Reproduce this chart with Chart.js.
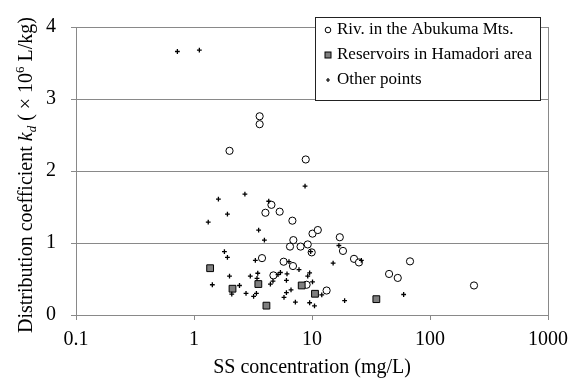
<!DOCTYPE html>
<html>
<head>
<meta charset="utf-8">
<script src="https://cdn.jsdelivr.net/npm/chart.js"></script>
<style>
  body { margin: 0; background: #fff; }
  canvas { display: block; }
</style>
</head>
<body>
<canvas id="chart" width="578" height="378"></canvas>
<script>
// values (SS in mg/L, kd in 10^6 L/kg)
const rivLabel = 'Riv. in the Abukuma Mts.';
const rivSS = [2.0, 3.6, 3.6, 8.85, 4.53, 4.03, 5.32, 6.82, 10.1, 11.2, 17.2, 6.95, 6.51, 8.0, 9.2,
    9.94, 18.3, 3.77, 5.75, 6.9, 22.7, 25.0, 4.71, 9.0, 13.3, 67.7, 45, 53.3, 236];
const rivKd = [2.28, 2.76, 2.65, 2.16, 1.53, 1.42, 1.435, 1.31, 1.13, 1.18, 1.08, 1.04, 0.95, 0.95, 0.98,
    0.87, 0.89, 0.79, 0.74, 0.68, 0.78, 0.73, 0.55, 0.42, 0.34, 0.745, 0.57, 0.515, 0.41];

const resLabel = 'Reservoirs in Hamadori area';
const resSS = [1.37, 2.12, 3.51, 4.11, 8.18, 10.6, 35.1];
const resKd = [0.65, 0.365, 0.43, 0.13, 0.41, 0.295, 0.22];

const otherLabel = 'Other points';
const otherSS = [0.723, 1.11, 8.73, 1.61, 2.7, 4.3, 1.92, 1.32, 3.53, 3.95, 1.81, 1.92, 3.31, 9.75, 6.38,
    7.76, 16.9, 15.1, 26.2, 2.0, 1.43, 2.43, 2.09, 3.0, 3.47, 3.42, 2.76, 3.38, 3.2, 4.44, 4.67, 5.15,
    5.4, 6.14, 6.07, 6.64, 6.07, 5.79, 7.23, 9.55, 9.2, 10.1, 9.55, 10.5, 12.1, 18.9, 59.8];
const otherKd = [3.66, 3.68, 1.79, 1.61, 1.68, 1.58, 1.40, 1.29, 1.18, 1.04, 0.88, 0.80, 0.76, 0.88, 0.74,
    0.63, 0.965, 0.72, 0.76, 0.54, 0.42, 0.41, 0.29, 0.54, 0.58, 0.51, 0.30, 0.30, 0.26, 0.43, 0.47, 0.56,
    0.59, 0.57, 0.48, 0.35, 0.31, 0.245, 0.18, 0.585, 0.54, 0.46, 0.17, 0.126, 0.28, 0.20, 0.285];

const xTicks = [0.1, 1, 10, 100, 1000];
const yTicks = [0, 1, 2, 3, 4];

const serif = 'Liberation Serif';
const gray = '#898989';

function pairs(xs, ys) {
    return xs.map((x, i) => ({ x: x, y: ys[i] }));
}

// y title has italics, a subscript and a superscript, so it is drawn here
const yTitle = {
    id: 'yTitle',
    afterDraw(chart) {
        const ctx = chart.ctx;
        const parts = [
            { t: 'Distribution coefficient ', f: '20px', dy: 0 },
            { t: 'k', f: 'italic 20px', dy: 0 },
            { t: 'd', f: 'italic 13px', dy: 4 },
            { t: ' ( \u00d7 10', f: '20px', dy: 0 },
            { t: '6', f: '13px', dy: -8 },
            { t: ' L/kg)', f: '20px', dy: 0 },
        ];
        ctx.save();
        ctx.translate(31.5, 175);
        ctx.rotate(-Math.PI / 2);
        ctx.fillStyle = '#000';
        ctx.textBaseline = 'alphabetic';
        let w = 0;
        parts.forEach(p => {
            ctx.font = p.f + ' "' + serif + '"';
            p.w = ctx.measureText(p.t).width;
            w += p.w;
        });
        let x = -w / 2;
        parts.forEach(p => {
            ctx.font = p.f + ' "' + serif + '"';
            ctx.fillText(p.t, x, p.dy);
            x += p.w;
        });
        ctx.restore();
    }
};

// boxed legend inside the plot, top right
const boxLegend = {
    id: 'boxLegend',
    afterDraw(chart) {
        const ctx = chart.ctx;
        const rows = [30, 55, 80];
        ctx.save();
        ctx.fillStyle = '#fff';
        ctx.fillRect(315.5, 17.5, 225, 83);
        ctx.strokeStyle = '#222';
        ctx.lineWidth = 1;
        ctx.strokeRect(315.5, 17.5, 225, 83);

        const mx = 328;
        // circle
        ctx.beginPath();
        ctx.arc(mx, rows[0], 2.8, 0, Math.PI * 2);
        ctx.fillStyle = '#fff';
        ctx.fill();
        ctx.strokeStyle = '#000';
        ctx.stroke();
        // square
        ctx.fillStyle = '#7f7f7f';
        ctx.fillRect(mx - 3, rows[1] - 3, 6, 6);
        ctx.strokeRect(mx - 3, rows[1] - 3, 6, 6);
        // cross
        ctx.beginPath();
        ctx.moveTo(mx - 2, rows[2]);
        ctx.lineTo(mx + 2, rows[2]);
        ctx.moveTo(mx, rows[2] - 2);
        ctx.lineTo(mx, rows[2] + 2);
        ctx.lineWidth = 1.2;
        ctx.stroke();

        ctx.fillStyle = '#000';
        ctx.font = '17px "' + serif + '"';
        ctx.textBaseline = 'middle';
        chart.data.datasets.forEach((ds, i) => {
            ctx.fillText(ds.label, 337, rows[i]);
        });
        ctx.restore();
    }
};

new Chart(document.getElementById('chart'), {
    type: 'scatter',
    data: {
        datasets: [
            {
                label: rivLabel,
                data: pairs(rivSS, rivKd),
                pointStyle: 'circle',
                pointRadius: 3.6,
                pointBorderWidth: 1,
                pointBorderColor: '#000',
                pointBackgroundColor: '#fff',
                order: 3,
            },
            {
                label: resLabel,
                data: pairs(resSS, resKd),
                pointStyle: 'rect',
                pointRadius: 4.8,
                pointBorderWidth: 1,
                pointBorderColor: '#000',
                pointBackgroundColor: '#7f7f7f',
                order: 2,
            },
            {
                label: otherLabel,
                data: pairs(otherSS, otherKd),
                pointStyle: 'cross',
                pointRadius: 2.4,
                pointBorderWidth: 1.3,
                pointBorderColor: '#000',
                order: 1,
            },
        ],
    },
    options: {
        responsive: false,
        animation: false,
        events: [],
        layout: { padding: { left: 0, top: 14, right: 30, bottom: 0 } },
        plugins: {
            legend: { display: false },
            tooltip: { enabled: false },
        },
        scales: {
            x: {
                type: 'logarithmic',
                min: 0.1,
                max: 1000,
                afterBuildTicks: axis => {
                    axis.ticks = xTicks.map(v => ({ value: v }));
                },
                afterFit: axis => {
                    axis.height = 63;
                },
                ticks: {
                    autoSkip: false,
                    maxRotation: 0,
                    padding: 8,
                    color: '#000',
                    font: { family: serif, size: 20 },
                    callback: v => String(v),
                },
                grid: {
                    color: ctx => (ctx.tick && ctx.tick.value === 1000 ? gray : 'rgba(0,0,0,0)'),
                    tickColor: gray,
                    tickLength: 5,
                },
                border: { color: gray },
                title: {
                    display: true,
                    text: 'SS concentration (mg/L)',
                    color: '#000',
                    font: { family: serif, size: 20, lineHeight: 1 },
                    padding: 0,
                },
            },
            y: {
                min: 0,
                max: 4,
                afterBuildTicks: axis => {
                    axis.ticks = yTicks.map(v => ({ value: v }));
                },
                afterFit: axis => {
                    axis.width = 76;
                },
                ticks: {
                    padding: 15,
                    color: '#000',
                    font: { family: serif, size: 20 },
                },
                grid: {
                    color: gray,
                    tickLength: 5,
                },
                border: { color: gray },
            },
        },
    },
    plugins: [yTitle, boxLegend],
});
</script>
</body>
</html>
